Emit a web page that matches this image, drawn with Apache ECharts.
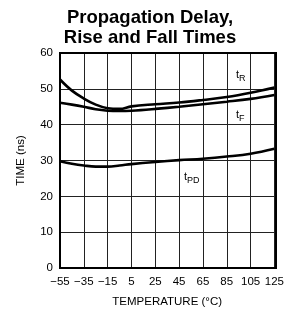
<!DOCTYPE html>
<html>
<head>
<meta charset="utf-8">
<script src="https://cdn.jsdelivr.net/npm/echarts@6/dist/echarts.min.js"></script>
<style>
  html, body { margin: 0; padding: 0; background: #fff; }
  #chart { width: 287px; height: 316px; }
</style>
</head>
<body>
<div id="chart"></div>
<script>
const temps = [-55, -45, -35, -25, -15, -5, 5, 25, 45, 65, 85, 105, 125];
const tR = [52.6, 49.5, 47.3, 45.6, 44.6, 44.4, 45.1, 45.7, 46.2, 46.9, 47.7, 48.9, 50.4];
const tF = [46.1, 45.6, 45.0, 44.3, 43.9, 43.8, 43.9, 44.4, 45.0, 45.7, 46.4, 47.2, 48.3];
const tPD = [29.8, 29.1, 28.6, 28.3, 28.3, 28.6, 29.0, 29.6, 30.1, 30.5, 31.1, 31.9, 33.3];
const xTicks = [-55, -35, -15, 5, 25, 45, 65, 85, 105, 125];

const chart = echarts.init(document.getElementById("chart"));

const pairs = (ys) => temps.map((t, i) => [t, ys[i]]);
const lineSeries = (name, ys) => ({
  name,
  type: "line",
  data: pairs(ys),
  smooth: 0.4,
  showSymbol: false,
  lineStyle: { color: "#000", width: 2.6 },
  z: 5,
});

const font = "Liberation Sans";
const rich = {
  t: { fontSize: 11, fontFamily: font, fill: "#000" },
  s: { fontSize: 9, fontFamily: font, padding: [8, 0, 0, 0] },
};

chart.setOption({
  animation: false,
  title: {
    text: "Propagation Delay,\nRise and Fall Times",
    left: 145,
    textAlign: "center",
    top: 3,
    textStyle: {
      fontFamily: font,
      fontWeight: "bold",
      fontSize: 18.5,
      lineHeight: 20,
      color: "#000",
    },
  },
  grid: { left: 60, right: 11, top: 53, bottom: 48 },
  xAxis: {
    type: "value",
    min: -55,
    max: 125,
    interval: 20,
    name: "TEMPERATURE (°C)",
    nameLocation: "middle",
    nameGap: 28,
    nameTextStyle: { fontFamily: font, fontSize: 11.5, color: "#000" },
    axisLine: { show: false },
    axisTick: { show: false },
    axisLabel: {
      fontFamily: font,
      fontSize: 11.5,
      color: "#000",
      margin: 8,
      customValues: xTicks,
      formatter: (v) => String(v).replace("-", "\u2212"),
    },
    splitLine: { lineStyle: { color: "#222", width: 1 } },
  },
  yAxis: {
    type: "value",
    min: 0,
    max: 60,
    interval: 10,
    name: "TIME (ns)",
    nameLocation: "middle",
    nameGap: 33,
    nameTextStyle: { fontFamily: font, fontSize: 11.5, color: "#000" },
    axisLine: { show: false },
    axisTick: { show: false },
    axisLabel: { fontFamily: font, fontSize: 11.5, color: "#000", margin: 7 },
    splitLine: { lineStyle: { color: "#222", width: 1 } },
  },
  graphic: [
    {
      type: "rect",
      shape: { x: 60, y: 53, width: 216, height: 215 },
      style: { fill: null, stroke: "#000", lineWidth: 2 },
      z: 10,
    },
    {
      type: "text",
      x: 236,
      y: 66,
      style: { text: "{t|t}{s|R}", rich },
      z: 11,
    },
    {
      type: "text",
      x: 236,
      y: 106,
      style: { text: "{t|t}{s|F}", rich },
      z: 11,
    },
    {
      type: "text",
      x: 184,
      y: 168,
      style: { text: "{t|t}{s|PD}", rich },
      z: 11,
    },
  ],
  series: [lineSeries("tR", tR), lineSeries("tF", tF), lineSeries("tPD", tPD)],
});
</script>
</body>
</html>
